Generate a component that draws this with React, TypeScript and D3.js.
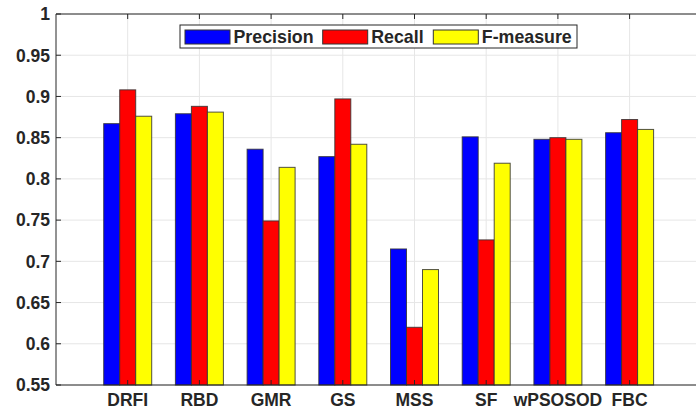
import React from "react";
import * as d3 from "d3";

const categories = ["DRFI", "RBD", "GMR", "GS", "MSS", "SF", "wPSOSOD", "FBC"];
const seriesNames = ["Precision", "Recall", "F-measure"];
const precision = [0.867, 0.879, 0.836, 0.827, 0.715, 0.851, 0.848, 0.856];
const recall = [0.908, 0.888, 0.749, 0.897, 0.62, 0.726, 0.85, 0.872];
const fmeasure = [0.876, 0.881, 0.814, 0.842, 0.69, 0.819, 0.848, 0.86];
const yTicks = [0.55, 0.6, 0.65, 0.7, 0.75, 0.8, 0.85, 0.9, 0.95, 1];
const yTickLabels = ["0.55", "0.6", "0.65", "0.7", "0.75", "0.8", "0.85", "0.9", "0.95", "1"];
const colors = ["#0000ff", "#ff0000", "#ffff00"];

const W = 696;
const H = 409;
const left = 56;
const right = 701.3;
const top = 14;
const bottom = 385;
const font = "'Liberation Sans', Arial, Helvetica, sans-serif";
const textColor = "#262626";

export default function App() {
  const values = [precision, recall, fmeasure];
  const x = d3.scaleLinear().domain([0, categories.length + 1]).range([left, right]);
  const y = d3.scaleLinear().domain([0.55, 1]).range([bottom, top]);
  const inner = d3.scaleBand<string>().domain(seriesNames).range([-24, 24]).padding(0);
  const tickLen = 5;

  return (
    <div style={{ position: "fixed", left: 0, top: 0, width: W, height: H, background: "#fff" }}>
      <svg width={W} height={H} style={{ display: "block" }} fontFamily={font}>
        <rect x={0} y={0} width={W} height={H} fill="#fff" />
        {/* grid */}
        {yTicks.map((t) => (
          <line key={"gy" + t} x1={left} x2={right} y1={y(t)} y2={y(t)} stroke="#e6e6e6" strokeWidth={1} />
        ))}
        {categories.map((c, i) => (
          <line key={"gx" + c} x1={x(i + 1)} x2={x(i + 1)} y1={top} y2={bottom} stroke="#e6e6e6" strokeWidth={1} />
        ))}
        {/* bars */}
        {categories.map((c, i) =>
          seriesNames.map((s, j) => {
            const v = values[j][i];
            const bx = x(i + 1) + (inner(s) as number);
            return (
              <rect
                key={c + s}
                x={bx}
                y={y(v)}
                width={inner.bandwidth()}
                height={bottom - y(v)}
                fill={colors[j]}
                stroke="#333"
                strokeOpacity={0.85}
                strokeWidth={1}
              />
            );
          })
        )}
        {/* axes box */}
        <line x1={left} x2={right} y1={top} y2={top} stroke={textColor} strokeWidth={1} />
        <line x1={left} x2={right} y1={bottom} y2={bottom} stroke={textColor} strokeWidth={1} />
        <line x1={left} x2={left} y1={top} y2={bottom} stroke={textColor} strokeWidth={1} />
        <line x1={right} x2={right} y1={top} y2={bottom} stroke={textColor} strokeWidth={1} />
        {/* y ticks */}
        {yTicks.map((t, k) => (
          <g key={"yt" + t}>
            <line x1={left} x2={left + tickLen} y1={y(t)} y2={y(t)} stroke={textColor} />
            <line x1={right} x2={right - tickLen} y1={y(t)} y2={y(t)} stroke={textColor} />
            <text
              x={50}
              y={y(t)}
              dy="0.36em"
              textAnchor="end"
              fontSize={17.5}
              fontWeight="bold"
              fill={textColor}
            >
              {yTickLabels[k]}
            </text>
          </g>
        ))}
        {/* x ticks */}
        {categories.map((c, i) => (
          <g key={"xt" + c}>
            <line x1={x(i + 1)} x2={x(i + 1)} y1={top} y2={top + tickLen} stroke={textColor} />
            <line x1={x(i + 1)} x2={x(i + 1)} y1={bottom} y2={bottom - tickLen} stroke={textColor} />
            <text x={x(i + 1)} y={405.5} textAnchor="middle" fontSize={17.5} fontWeight="bold" fill={textColor}>
              {c}
            </text>
          </g>
        ))}
        {/* legend */}
        <g>
          <rect x={180} y={25} width={397} height={23} fill="#fff" stroke={textColor} strokeWidth={1} />
          {seriesNames.map((s, j) => {
            const sx = [185, 322.7, 433.3][j];
            return (
              <g key={"lg" + s}>
                <rect x={sx} y={30} width={45} height={14} fill={colors[j]} stroke="#333" strokeWidth={1} />
                <text x={sx + 48.5} y={43} fontSize={17.8} fontWeight="bold" fill={textColor}>
                  {s}
                </text>
              </g>
            );
          })}
        </g>
      </svg>
    </div>
  );
}
